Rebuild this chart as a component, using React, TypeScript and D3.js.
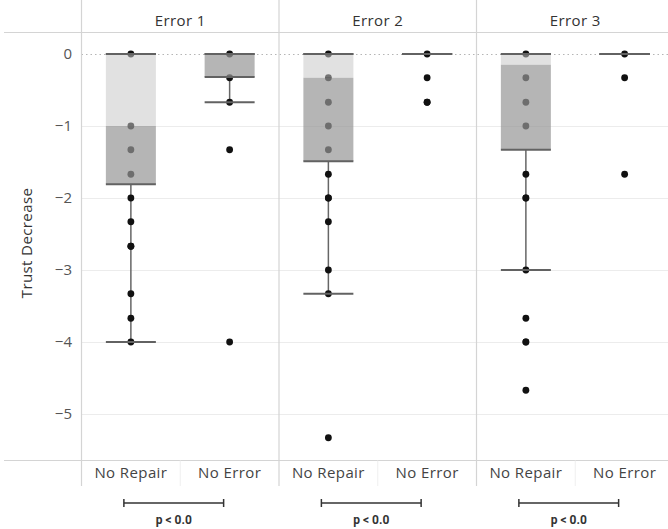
import React, { useEffect, useRef } from 'react';
import * as d3 from 'd3';

const WIDTH = 668;
const HEIGHT = 529;

// panels and categories
const panels = ['Error 1', 'Error 2', 'Error 3'];
const conditions = ['No Repair', 'No Error'];
const yTicks = [0, -1, -2, -3, -4, -5];
const pLabels = ['p < 0.0', 'p < 0.0', 'p < 0.0'];

// individual responses (duplicates listed twice)
const error1NoRepair = [0, -1, -1.33, -1.67, -2, -2.33, -2.67, -2.67, -3.33, -3.67, -4];
const error1NoError = [0, -0.33, -0.67, -1.33, -4];
const error2NoRepair = [0, -0.33, -0.67, -1, -1.33, -1.67, -2, -2, -2.33, -3, -3.33, -5.33];
const error2NoError = [0, -0.33, -0.67, -0.67];
const error3NoRepair = [0, -0.33, -0.67, -1, -1.67, -2, -2, -3, -3.67, -4, -4, -4.67];
const error3NoError = [0, -0.33, -1.67];

// box stats, order: E1 NR, E1 NE, E2 NR, E2 NE, E3 NR, E3 NE
const upperHinge = [0, 0, 0, 0, 0, 0];
const medians = [-1, 0, -0.33, 0, -0.15, 0];
const lowerHinge = [-1.81, -0.32, -1.49, 0, -1.33, 0];
const upperWhisker = [0, 0, 0, 0, 0, 0];
const lowerWhisker = [-4, -0.67, -3.33, 0, -3, 0];

const seriesValues = [
  error1NoRepair, error1NoError,
  error2NoRepair, error2NoError,
  error3NoRepair, error3NoError,
];

const FONT = '"Open Sans", Lato, sans-serif';
const FONT_SIZE = 15;
const SPACING = '0.4px';

const App = () => {
  const svgRef = useRef<SVGSVGElement>(null);

  useEffect(() => {
    const svg = d3.select(svgRef.current);
    svg.selectAll('*').remove();

    const left = 81.5;
    const panelW = 197.5;
    const top = 32.5;
    const bottom = 460.5;

    const panelX = d3.scaleBand().domain(panels).range([left, left + panelW * panels.length]);
    const condX = d3.scalePoint().domain(conditions).range([0, panelX.bandwidth()]).padding(0.5);
    const y = d3.scaleLinear().domain([0, -5]).range([54, 414]);

    const cx = (p: string, c: string) => (panelX(p) as number) + (condX(c) as number);

    // gridlines
    svg.append('g')
      .selectAll('line')
      .data(yTicks)
      .join('line')
      .attr('x1', left)
      .attr('x2', WIDTH)
      .attr('y1', (d) => Math.round(y(d)) + 0.5)
      .attr('y2', (d) => Math.round(y(d)) + 0.5)
      .attr('stroke', (d) => (d === 0 ? '#b5b5b5' : '#ececec'))
      .attr('stroke-dasharray', (d) => (d === 0 ? '1.5,3' : null))
      .attr('stroke-width', 1);

    // frame
    const frame = svg.append('g').attr('stroke', '#d4d4d4').attr('stroke-width', 1.2);
    frame.append('line').attr('x1', 4).attr('x2', WIDTH).attr('y1', top).attr('y2', top);
    frame.append('line').attr('x1', 4).attr('x2', WIDTH).attr('y1', bottom).attr('y2', bottom);
    frame.selectAll('line.div')
      .data(panels)
      .join('line')
      .attr('class', 'div')
      .attr('x1', (d) => panelX(d) as number)
      .attr('x2', (d) => panelX(d) as number)
      .attr('y1', 0)
      .attr('y2', 486);
    svg.append('g')
      .selectAll('line')
      .data(panels)
      .join('line')
      .attr('x1', (d) => (panelX(d) as number) + panelX.bandwidth() / 2)
      .attr('x2', (d) => (panelX(d) as number) + panelX.bandwidth() / 2)
      .attr('y1', bottom)
      .attr('y2', 486)
      .attr('stroke', '#efefef');

    // y axis
    const yAxis = svg.append('g')
      .attr('transform', 'translate(72,0)')
      .call(d3.axisLeft(y).tickValues(yTicks).tickFormat(d3.format('d')).tickSize(0).tickPadding(0));
    yAxis.select('.domain').remove();
    yAxis.selectAll('text')
      .attr('font-family', FONT)
      .attr('font-size', FONT_SIZE)
      .attr('fill', '#555');

    svg.append('text')
      .attr('transform', 'translate(32,243) rotate(-90)')
      .attr('text-anchor', 'middle')
      .attr('font-family', FONT)
      .attr('font-size', FONT_SIZE)
      .attr('letter-spacing', SPACING)
      .attr('fill', '#333')
      .text('Trust Decrease');

    // panel headers
    svg.append('g')
      .selectAll('text')
      .data(panels)
      .join('text')
      .attr('x', (d) => (panelX(d) as number) + panelX.bandwidth() / 2)
      .attr('y', 26)
      .attr('text-anchor', 'middle')
      .attr('font-family', FONT)
      .attr('font-size', FONT_SIZE)
      .attr('letter-spacing', SPACING)
      .attr('fill', '#333')
      .text((d) => d);

    // category labels
    const cats = panels.flatMap((p) => conditions.map((c) => ({ p, c })));
    svg.append('g')
      .selectAll('text')
      .data(cats)
      .join('text')
      .attr('x', (d) => cx(d.p, d.c))
      .attr('y', 478)
      .attr('text-anchor', 'middle')
      .attr('font-family', FONT)
      .attr('font-size', FONT_SIZE)
      .attr('letter-spacing', SPACING)
      .attr('fill', '#444')
      .text((d) => d.c);

    // boxes
    const boxW = 50;
    const series = cats.map((d, i) => ({
      ...d,
      x: cx(d.p, d.c),
      values: seriesValues[i],
      q3: upperHinge[i],
      med: medians[i],
      q1: lowerHinge[i],
      hi: upperWhisker[i],
      lo: lowerWhisker[i],
    }));

    const g = svg.append('g');
    series.forEach((s) => {
      // whiskers
      g.append('line')
        .attr('x1', s.x).attr('x2', s.x)
        .attr('y1', y(s.q1)).attr('y2', y(s.lo))
        .attr('stroke', '#666').attr('stroke-width', 1.5);
      g.append('line')
        .attr('x1', s.x).attr('x2', s.x)
        .attr('y1', y(s.q3)).attr('y2', y(s.hi))
        .attr('stroke', '#666').attr('stroke-width', 1.5);
    });

    series.forEach((s) => {
      g.append('g')
        .selectAll('circle')
        .data(s.values)
        .join('circle')
        .attr('cx', s.x)
        .attr('cy', (d) => y(d))
        .attr('r', 3.4)
        .attr('fill', '#111');
    });

    series.forEach((s) => {
      g.append('rect')
        .attr('x', s.x - boxW / 2)
        .attr('width', boxW)
        .attr('y', y(s.q3))
        .attr('height', y(s.med) - y(s.q3))
        .attr('fill', 'rgb(199,199,199)')
        .attr('fill-opacity', 0.54);
      g.append('rect')
        .attr('x', s.x - boxW / 2)
        .attr('width', boxW)
        .attr('y', y(s.med))
        .attr('height', y(s.q1) - y(s.med))
        .attr('fill', 'rgb(150,150,150)')
        .attr('fill-opacity', 0.7);
      [s.q3, s.q1, s.hi, s.lo].forEach((v) => {
        g.append('line')
          .attr('x1', s.x - boxW / 2)
          .attr('x2', s.x + boxW / 2)
          .attr('y1', y(v))
          .attr('y2', y(v))
          .attr('stroke', '#626262')
          .attr('stroke-width', 2);
      });
    });

    // significance brackets
    const br = svg.append('g');
    panels.forEach((p, i) => {
      const x1 = cx(p, conditions[0]) - 7;
      const x2 = cx(p, conditions[1]) - 6;
      br.append('line').attr('x1', x1).attr('x2', x2).attr('y1', 503).attr('y2', 503)
        .attr('stroke', '#333').attr('stroke-width', 1.5);
      [x1, x2].forEach((x) => {
        br.append('line').attr('x1', x).attr('x2', x).attr('y1', 499).attr('y2', 507)
          .attr('stroke', '#333').attr('stroke-width', 1.5);
      });
      br.append('text')
        .attr('x', (x1 + x2) / 2)
        .attr('y', 524)
        .attr('text-anchor', 'middle')
        .attr('font-family', '"Liberation Sans Narrow", Roboto, sans-serif')
        .attr('font-weight', 'bold')
        .attr('font-size', 12)
        .attr('fill', '#333')
        .text(pLabels[i]);
    });
  }, []);

  return (
    <>
      <style>{'body{margin:0}'}</style>
      <svg ref={svgRef} width={WIDTH} height={HEIGHT} style={{ display: 'block', background: '#fff' }}></svg>
    </>
  );
};

export default App;
